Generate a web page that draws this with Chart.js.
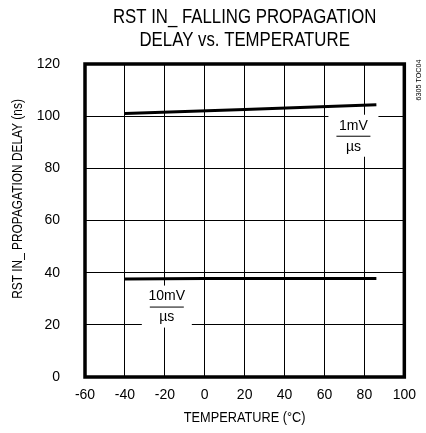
<!DOCTYPE html>
<html>
<head>
<meta charset="utf-8">
<script src="https://cdn.jsdelivr.net/npm/chart.js@4.4.1/dist/chart.umd.min.js"></script>
<style>
  html, body { margin: 0; padding: 0; background: #fff; }
  #wrap { width: 426px; height: 433px; }
</style>
</head>
<body>
<div id="wrap"><canvas id="chart" width="426" height="433"></canvas></div>
<script>
// Données
const titleLines = ['RST IN_ FALLING PROPAGATION', 'DELAY vs. TEMPERATURE'];
const xTitle = 'TEMPERATURE (°C)';
const yTitle = 'RST IN_ PROPAGATION DELAY (ns)';
const xTicks = [-60, -40, -20, 0, 20, 40, 60, 80, 100];
const yTicks = [0, 20, 40, 60, 80, 100, 120];

const temp1mV = [-40, 20, 86];
const delay1mV = [101.0, 102.6, 104.4];
const temp10mV = [-40, 0, 86];
const delay10mV = [37.6, 37.8, 37.8];

// Étiquettes des courbes : numérateur / dénominateur, position de la barre de fraction
const curveLabels = [
    { num: '1mV', den: 'µs', x: 74.5, y: 92.5 },
    { num: '10mV', den: 'µs', x: -19, y: 27 }
];
const figId = '6305 TOC04';

const regular = "'Liberation Sans', Arial, sans-serif";

function toPoints(xs, ys) {
    return xs.map((x, i) => ({ x: x, y: ys[i] }));
}

// Texte condensé (type Helvetica Narrow)
function narrowText(ctx, text, x, y, size, squeeze, angle) {
    ctx.save();
    ctx.translate(x, y);
    if (angle) ctx.rotate(angle);
    ctx.scale(squeeze, 1);
    ctx.font = size + 'px ' + regular;
    ctx.fillStyle = '#000';
    ctx.textAlign = 'center';
    ctx.textBaseline = 'middle';
    ctx.fillText(text, 0, 0);
    ctx.restore();
}

const overlay = {
    id: 'overlay',
    beforeDatasetsDraw(chart) {
        const { ctx, chartArea: a, scales: { x, y } } = chart;
        ctx.save();

        // Étiquettes en fraction sur fond blanc
        curveLabels.forEach(l => {
            const cx = x.getPixelForValue(l.x);
            const cy = y.getPixelForValue(l.y);
            ctx.fillStyle = '#fff';
            ctx.fillRect(cx - 25, cy - 21, 50, 42);
            ctx.fillStyle = '#000';
            ctx.font = '14px ' + regular;
            ctx.textAlign = 'center';
            ctx.textBaseline = 'middle';
            ctx.fillText(l.num, cx, cy - 10);
            ctx.fillText(l.den, cx, cy + 11);
            ctx.strokeStyle = '#000';
            ctx.lineWidth = 1;
            ctx.beginPath();
            ctx.moveTo(cx - 17, cy + 0.5);
            ctx.lineTo(cx + 17, cy + 0.5);
            ctx.stroke();
        });

        // Cadre épais
        ctx.strokeStyle = '#000';
        ctx.lineWidth = 3.5;
        ctx.strokeRect(a.left, a.top, a.right - a.left, a.bottom - a.top);
        ctx.restore();

        // Titre (deux lignes), centré sur la zone du graphique
        const mid = (a.left + a.right) / 2;
        narrowText(ctx, titleLines[0], mid, 17, 21, 0.8);
        narrowText(ctx, titleLines[1], mid, 40, 21, 0.8);

        // Titres des axes
        narrowText(ctx, yTitle, 18, 199, 14, 0.85, -Math.PI / 2);
        narrowText(ctx, xTitle, mid, 418, 15, 0.85);

        // Référence de la figure
        narrowText(ctx, figId, 419, 80, 8, 0.9, -Math.PI / 2);
    }
};

new Chart(document.getElementById('chart'), {
    type: 'line',
    data: {
        datasets: [
            {
                label: '1mV/µs',
                data: toPoints(temp1mV, delay1mV),
                borderColor: '#000',
                borderWidth: 3,
                pointRadius: 0,
                tension: 0
            },
            {
                label: '10mV/µs',
                data: toPoints(temp10mV, delay10mV),
                borderColor: '#000',
                borderWidth: 3,
                pointRadius: 0,
                tension: 0
            }
        ]
    },
    options: {
        responsive: false,
        animation: false,
        layout: { padding: { left: 0, right: 18, top: 64, bottom: 0 } },
        plugins: {
            legend: { display: false },
            tooltip: { enabled: false },
            title: { display: false }
        },
        scales: {
            x: {
                type: 'linear',
                min: -60,
                max: 100,
                afterBuildTicks: s => { s.ticks = xTicks.map(v => ({ value: v })); },
                afterFit: s => { s.height = 56; },
                grid: { color: '#000', lineWidth: 1, drawTicks: false },
                border: { display: false },
                ticks: { color: '#000', padding: 10, font: { family: regular, size: 14 } }
            },
            y: {
                min: 0,
                max: 120,
                afterBuildTicks: s => { s.ticks = yTicks.map(v => ({ value: v })); },
                afterFit: s => { s.width = 85; },
                grid: { color: '#000', lineWidth: 1, drawTicks: false },
                border: { display: false },
                ticks: { color: '#000', padding: 25, font: { family: regular, size: 14 } }
            }
        }
    },
    plugins: [overlay]
});
</script>
</body>
</html>
